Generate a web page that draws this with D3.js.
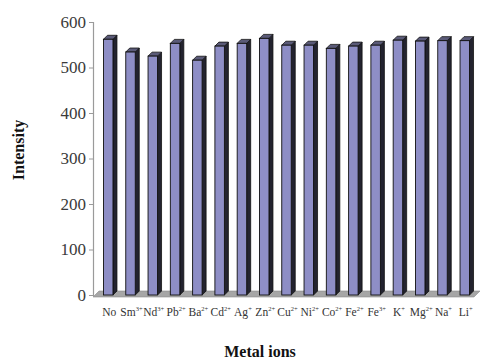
<!DOCTYPE html>
<html>
<head>
<meta charset="utf-8">
<script src="https://cdn.jsdelivr.net/npm/d3@7"></script>
<style>
  html, body { margin: 0; padding: 0; background: #fff; }
  svg { display: block; }
  text { font-family: "Liberation Serif", "Times New Roman", serif; }
</style>
</head>
<body>
<svg id="chart" width="483" height="360"></svg>
<script>
// Ion symbols and their charges (charge drawn as superscript)
const ions    = ["No", "Sm", "Nd", "Pb", "Ba", "Cd", "Ag", "Zn", "Cu", "Ni", "Co", "Fe", "Fe", "K", "Mg", "Na", "Li"];
const charges = ["",   "3+", "3+", "2+", "2+", "2+", "+",  "2+", "2+", "2+", "2+", "2+", "3+", "+", "2+", "+",  "+"];
// Fluorescence intensity for each ion
const intensity = [562, 534, 525, 553, 516, 547, 553, 564, 549, 549, 542, 547, 549, 560, 558, 559, 559];
const yTicks = [0, 100, 200, 300, 400, 500, 600];

(function draw() {
  const svg = d3.select("#chart");
  const plotLeft = 93, plotRight = 480, plotTop = 22, plotBottom = 295;
  const depth = 4;       // 3D bar depth offset
  const floorDepth = 6;  // floor slab depth

  const x = d3.scaleBand()
    .domain(d3.range(ions.length))
    .range([plotLeft, plotRight])
    .paddingInner(0.574)
    .paddingOuter(0.47);

  const y = d3.scaleLinear().domain([0, 600]).range([plotBottom, plotTop]);

  // floor
  svg.append("polygon")
    .attr("points", [
      [plotLeft, plotBottom + 2], [plotRight - floorDepth, plotBottom + 2],
      [plotRight, plotBottom + 2 - floorDepth], [plotLeft + floorDepth, plotBottom + 2 - floorDepth]
    ].map(p => p.join(",")).join(" "))
    .attr("fill", "#a6a6a6")
    .attr("stroke", "#8a8a8a")
    .attr("stroke-width", 0.6);

  // y axis
  const yAxis = d3.axisLeft(y).tickValues(yTicks).tickSize(4).tickPadding(3);
  const gy = svg.append("g").attr("transform", `translate(${plotLeft},0)`).call(yAxis);
  gy.select(".domain").attr("stroke", "#9a9a9a").attr("stroke-width", 1.2);
  gy.selectAll(".tick line").attr("stroke", "#9a9a9a");
  gy.selectAll(".tick text")
    .attr("font-size", 17)
    .attr("fill", "#3a3a3a")
    .attr("font-family", "Liberation Serif, serif");

  // bars
  const bw = x.bandwidth();
  svg.append("g").selectAll("g.bar")
    .data(intensity)
    .join("g").attr("class", "bar")
    .each(function(d, i) {
      const g = d3.select(this);
      const x0 = x(i), yt = y(d), yb = y(0);
      const pts = a => a.map(p => p.join(",")).join(" ");
      // right side
      g.append("polygon")
        .attr("points", pts([[x0 + bw, yt], [x0 + bw + depth, yt - depth], [x0 + bw + depth, yb - depth], [x0 + bw, yb]]))
        .attr("fill", "#23232f").attr("stroke", "#111").attr("stroke-width", 0.8);
      // top
      g.append("polygon")
        .attr("points", pts([[x0, yt], [x0 + depth, yt - depth], [x0 + bw + depth, yt - depth], [x0 + bw, yt]]))
        .attr("fill", "#5a5a78").attr("stroke", "#111").attr("stroke-width", 0.8);
      // front
      g.append("rect")
        .attr("x", x0).attr("y", yt)
        .attr("width", bw).attr("height", yb - yt)
        .attr("fill", "#8e8ec6").attr("stroke", "#111").attr("stroke-width", 0.9);
    });

  // category labels with superscript charges
  const labels = svg.append("g").selectAll("text")
    .data(ions)
    .join("text")
    .attr("x", (d, i) => x(i) + bw / 2 + 1)
    .attr("y", 316)
    .attr("text-anchor", "middle")
    .attr("font-size", 11.5)
    .attr("fill", "#333");
  labels.append("tspan").text(d => d);
  labels.append("tspan")
    .attr("font-size", 6.5)
    .attr("dy", -5)
    .text((d, i) => charges[i]);

  // axis titles
  svg.append("text")
    .attr("transform", "translate(24,150) rotate(-90)")
    .attr("text-anchor", "middle")
    .attr("font-size", 16)
    .attr("font-weight", "bold")
    .attr("fill", "#111")
    .text("Intensity");

  svg.append("text")
    .attr("x", 260).attr("y", 357)
    .attr("text-anchor", "middle")
    .attr("font-size", 16)
    .attr("font-weight", "bold")
    .attr("fill", "#111")
    .text("Metal ions");
})();
</script>
</body>
</html>
